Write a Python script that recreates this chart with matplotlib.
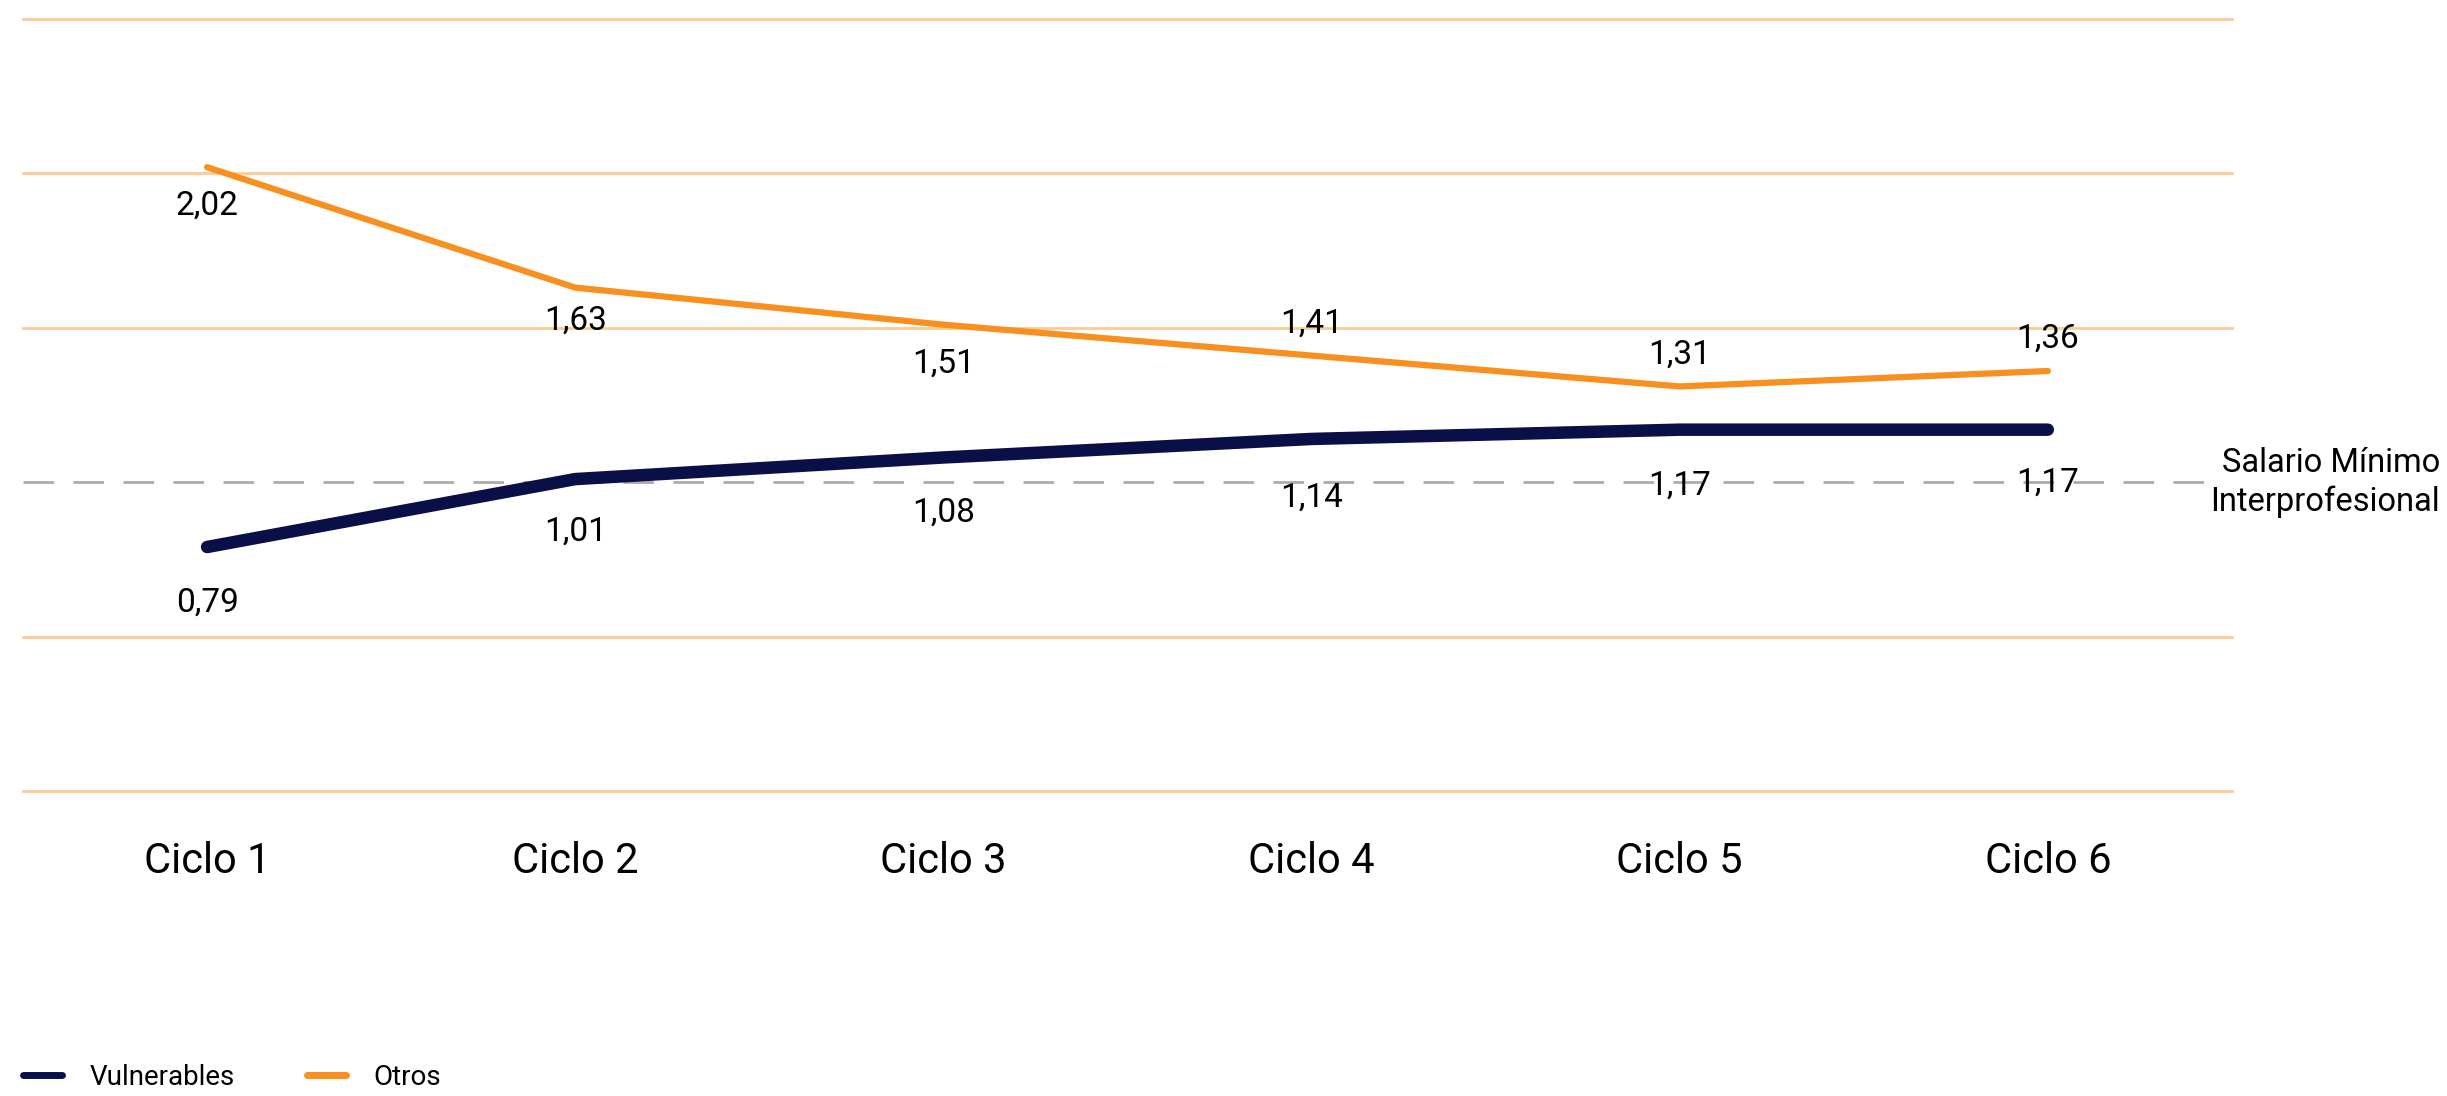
import matplotlib
matplotlib.use("Agg")
import matplotlib.pyplot as plt
from matplotlib.lines import Line2D

plt.rcParams['font.family'] = ['Roboto', 'DejaVu Sans']

# data
ciclos = ["Ciclo 1", "Ciclo 2", "Ciclo 3", "Ciclo 4", "Ciclo 5", "Ciclo 6"]
vulnerables = [0.79, 1.01, 1.08, 1.14, 1.17, 1.17]
otros = [2.02, 1.63, 1.51, 1.41, 1.31, 1.36]
smi = 1.0
grid_vals = [0, 0.5, 1.5, 2.0, 2.5]

# label placement (points offset)
otros_off = [-28, -24, -28, 23, 23, 23]
vuln_off = [-40, -38, -40, -42, -40, -38]

NAVY = "#0A0F47"
ORANGE = "#F7901E"
GRID = "#FDCB92"

fig = plt.figure(figsize=(24.47, 10.96), dpi=100)
ax = fig.add_axes([0.0094, 0.2783, 0.9027, 0.7044])
x = list(range(len(ciclos)))

for g in grid_vals:
    ax.axhline(g, color=GRID, lw=2, zorder=1, clip_on=False)

ax.plot([-0.5, 5.45], [smi, smi], color="#ABABAB", lw=2, dashes=(11, 7), zorder=1, clip_on=False)

ax.plot(x, otros, color=ORANGE, lw=4.5, solid_capstyle="round", solid_joinstyle="round", zorder=3)
ax.plot(x, vulnerables, color=NAVY, lw=9, solid_capstyle="round", solid_joinstyle="round", zorder=4)

for i in x:
    ax.annotate(f"{otros[i]:.2f}".replace(".", ","), (i, otros[i]), xytext=(0, otros_off[i]),
                textcoords="offset points", ha="center", va="center", fontsize=24, color="black")
    ax.annotate(f"{vulnerables[i]:.2f}".replace(".", ","), (i, vulnerables[i]), xytext=(0, vuln_off[i]),
                textcoords="offset points", ha="center", va="center", fontsize=24, color="black")

ax.text(1.0943, smi, "Salario Mínimo\nInterprofesional", transform=ax.get_yaxis_transform(),
        ha="right", va="center", fontsize=23.5, linespacing=1.25)

ax.set_xlim(-0.5, 5.5)
ax.set_ylim(0, 2.5)
ax.set_xticks(x)
ax.set_xticklabels(ciclos, fontsize=30)
ax.tick_params(axis="x", length=0, pad=36)
ax.set_yticks([])
for s in ax.spines.values():
    s.set_visible(False)

handles = [Line2D([], [], color=NAVY, lw=5, solid_capstyle="round"),
           Line2D([], [], color=ORANGE, lw=5, solid_capstyle="round")]
fig.legend(handles, ["Vulnerables", "Otros"], loc="center left", bbox_to_anchor=(0.0094, 0.0173),
           ncol=2, frameon=False, fontsize=20, handlelength=1.4, handletextpad=1.0,
           columnspacing=2.6, borderpad=0, borderaxespad=0)

fig.savefig("out.png", dpi=100)
